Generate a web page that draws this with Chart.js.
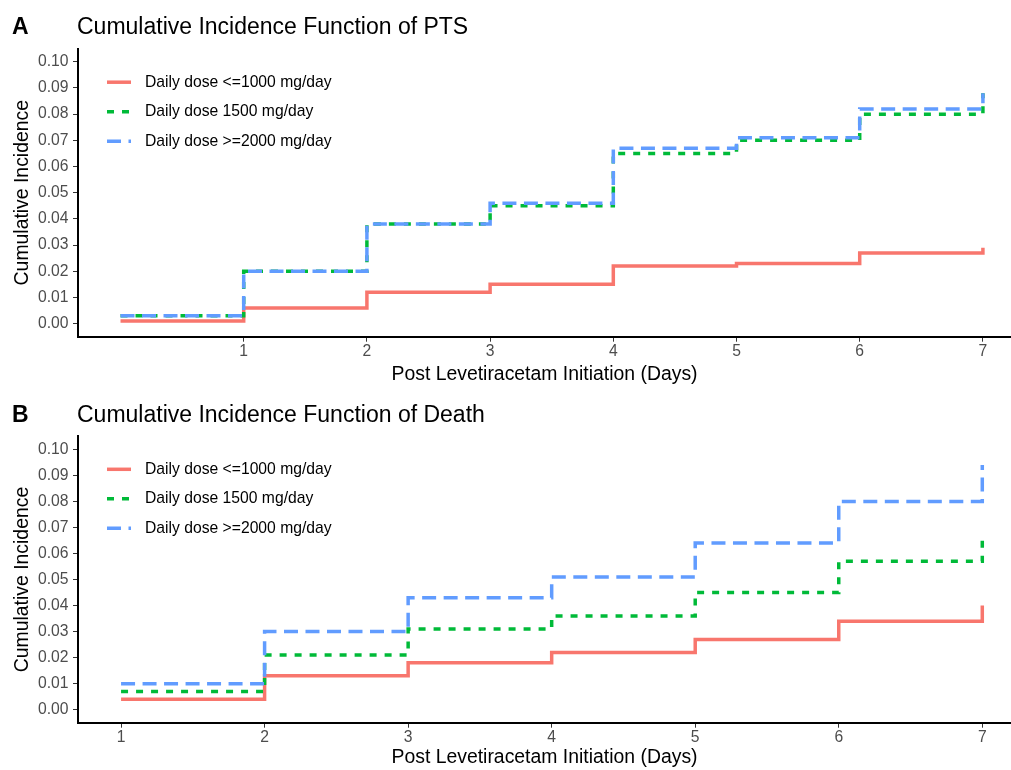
<!DOCTYPE html>
<html>
<head>
<meta charset="utf-8">
<script src="https://cdn.jsdelivr.net/npm/chart.js@4/dist/chart.umd.min.js"></script>
<style>
  body { margin: 0; background: #fff; }
  .panel { position: absolute; left: 0; width: 1011px; }
</style>
</head>
<body>
<div class="panel" style="top:0"><canvas id="chartA" width="1011" height="390"></canvas></div>
<div class="panel" style="top:390px"><canvas id="chartB" width="1011" height="380"></canvas></div>
<script>
const seriesLabels = ["Daily dose <=1000 mg/day", "Daily dose 1500 mg/day", "Daily dose >=2000 mg/day"];
const seriesColors = ["#F8766D", "#00BA38", "#619CFF"];
const seriesDash = [[], [7, 8], [14, 7.5]];
const yTicks = [0, 0.01, 0.02, 0.03, 0.04, 0.05, 0.06, 0.07, 0.08, 0.09, 0.1];
const xTicks = [1, 2, 3, 4, 5, 6, 7];

// step levels from each day on, last value = jump at day 7
const ptsDays = [0, 1, 2, 3, 4, 5, 6, 7];
const ptsLow = [0.001, 0.006, 0.012, 0.015, 0.022, 0.023, 0.027, 0.029];
const ptsMid = [0.003, 0.020, 0.038, 0.045, 0.065, 0.070, 0.080, 0.088];
const ptsHigh = [0.003, 0.020, 0.038, 0.046, 0.067, 0.071, 0.082, 0.088];

const deathDays = [1, 2, 3, 4, 5, 6, 7];
const deathLow = [0.004, 0.013, 0.018, 0.022, 0.027, 0.034, 0.040];
const deathMid = [0.007, 0.021, 0.031, 0.036, 0.045, 0.057, 0.065];
const deathHigh = [0.010, 0.030, 0.043, 0.051, 0.064, 0.080, 0.094];

const FONT = "'Liberation Sans', Arial, sans-serif";
Chart.defaults.font.family = FONT;

const decor = {
    id: "decor",
    afterDraw(chart, args, opts) {
        const ctx = chart.ctx;
        const area = chart.chartArea;
        ctx.save();
        ctx.fillStyle = "#000";
        ctx.textBaseline = "alphabetic";
        ctx.font = "bold 23px " + FONT;
        ctx.fillText(opts.letter, 12, opts.titleY);
        ctx.font = "23px " + FONT;
        ctx.fillText(opts.title, 77, opts.titleY);
        // legend inside the plot
        chart.data.datasets.forEach((ds, i) => {
            const y = area.top + opts.legendTop + i * 29.5;
            ctx.strokeStyle = ds.borderColor;
            ctx.lineWidth = ds.borderWidth;
            ctx.lineCap = "butt";
            ctx.setLineDash(ds.borderDash);
            ctx.beginPath();
            ctx.moveTo(area.left + 29, y);
            ctx.lineTo(area.left + 53, y);
            ctx.stroke();
            ctx.setLineDash([]);
            ctx.font = "15.7px " + FONT;
            ctx.fillStyle = "#000";
            ctx.textBaseline = "middle";
            ctx.fillText(ds.label, area.left + 67, y);
        });
        ctx.restore();
    }
};

function makeChart(id, days, sets, cfg) {
    const datasets = sets.map((vals, i) => ({
        label: seriesLabels[i],
        data: days.map((d, j) => ({ x: d, y: vals[j] })),
        borderColor: seriesColors[i],
        borderDash: seriesDash[i],
        borderWidth: 3.5,
        borderCapStyle: "butt",
        borderJoinStyle: "miter",
        stepped: "before",
        pointRadius: 0,
        fill: false,
        order: 3 - i
    }));
    return new Chart(document.getElementById(id), {
        type: "line",
        data: { datasets },
        plugins: [decor],
        options: {
            responsive: false,
            animation: false,
            devicePixelRatio: 1,
            layout: { padding: { top: cfg.padTop, right: 0, bottom: 0, left: 0 } },
            plugins: {
                legend: { display: false },
                tooltip: { enabled: false },
                decor: { letter: cfg.letter, title: cfg.title, titleY: cfg.titleY, legendTop: cfg.legendTop }
            },
            scales: {
                x: {
                    type: "linear",
                    min: cfg.xMin,
                    max: cfg.xMax,
                    afterBuildTicks: s => { s.ticks = xTicks.map(v => ({ value: v })); },
                    afterFit: s => { s.height = cfg.xHeight; },
                    ticks: { color: "#4D4D4D", font: { size: 15.7 }, padding: 1, maxRotation: 0, autoSkip: false },
                    grid: { drawOnChartArea: false, tickLength: 5, color: "#333", lineWidth: 1 },
                    border: { color: "#000", width: 2 },
                    title: {
                        display: true,
                        text: "Post Levetiracetam Initiation (Days)",
                        color: "#000",
                        font: { size: 19.4 },
                        padding: { top: 0, bottom: cfg.xTitlePad }
                    }
                },
                y: {
                    min: -0.005,
                    max: 0.105,
                    afterBuildTicks: s => { s.ticks = yTicks.map(v => ({ value: v })); },
                    afterFit: s => { s.width = 78; },
                    ticks: { color: "#4D4D4D", font: { size: 15.7 }, padding: 4.5, callback: v => v.toFixed(2) },
                    grid: { drawOnChartArea: false, tickLength: 5, color: "#333", lineWidth: 1 },
                    border: { color: "#000", width: 2 },
                    title: {
                        display: true,
                        text: "Cumulative Incidence",
                        color: "#000",
                        font: { size: 19.4 },
                        padding: { top: 11, bottom: 0 }
                    }
                }
            }
        }
    });
}

makeChart("chartA", ptsDays, [ptsLow, ptsMid, ptsHigh], {
    letter: "A", title: "Cumulative Incidence Function of PTS", titleY: 34.3,
    padTop: 48.7, xHeight: 53.3, xTitlePad: 3.9, legendTop: 33.5,
    xMin: -0.345, xMax: 7.228
});

makeChart("chartB", deathDays, [deathLow, deathMid, deathHigh], {
    letter: "B", title: "Cumulative Incidence Function of Death", titleY: 31.7,
    padTop: 46.3, xHeight: 47.3, xTitlePad: 0.9, legendTop: 33,
    xMin: 0.7, xMax: 7.2
});
</script>
</body>
</html>
